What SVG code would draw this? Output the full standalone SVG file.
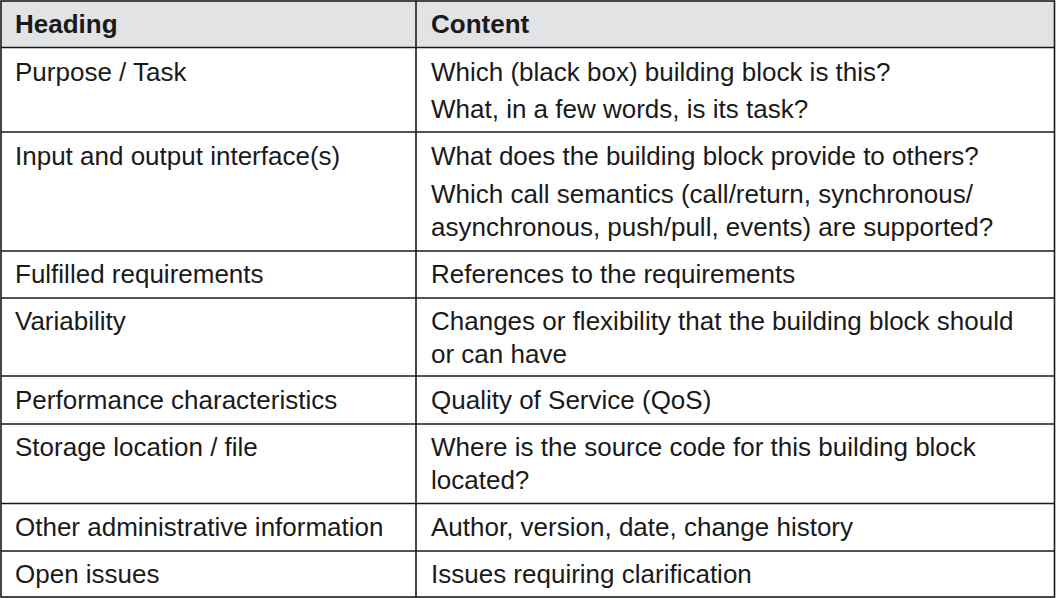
<svg xmlns="http://www.w3.org/2000/svg" width="1056" height="598" viewBox="0 0 1056 598">
<style>
text{font-family:"Liberation Sans",Arial,Helvetica,sans-serif;font-size:26px;fill:#1a1a1a}
.h{font-weight:bold}
.ln{stroke:#1a1a1a;stroke-width:1.6;fill:none}
</style>
<rect x="0" y="0" width="1056" height="598" fill="#ffffff"/>
<g id="header">
<rect x="1" y="1" width="1053.5" height="46.5" fill="#e2e3e5"/>
<text class="h" x="15" y="33">Heading</text>
<text class="h" x="431" y="33">Content</text>
</g>
<g id="connectors">
<rect class="ln" x="1" y="1" width="1053.5" height="596"/>
<line class="ln" x1="416" y1="1" x2="416" y2="597"/>
<line class="ln" x1="1" y1="47.5" x2="1054.5" y2="47.5"/>
<line class="ln" x1="1" y1="132" x2="1054.5" y2="132"/>
<line class="ln" x1="1" y1="251" x2="1054.5" y2="251"/>
<line class="ln" x1="1" y1="298" x2="1054.5" y2="298"/>
<line class="ln" x1="1" y1="376" x2="1054.5" y2="376"/>
<line class="ln" x1="1" y1="424" x2="1054.5" y2="424"/>
<line class="ln" x1="1" y1="503.5" x2="1054.5" y2="503.5"/>
<line class="ln" x1="1" y1="551" x2="1054.5" y2="551"/>
</g>
<g id="row1">
<text x="15" y="81">Purpose / Task</text>
<text x="431" y="81">Which (black box) building block is this?</text>
<text x="431" y="118">What, in a few words, is its task?</text>
</g>
<g id="row2">
<text x="15" y="165">Input and output interface(s)</text>
<text x="431" y="165">What does the building block provide to others?</text>
<text x="431" y="203">Which call semantics (call/return, synchronous/</text>
<text x="431" y="236">asynchronous, push/pull, events) are supported?</text>
</g>
<g id="row3">
<text x="15" y="283">Fulfilled requirements</text>
<text x="431" y="283">References to the requirements</text>
</g>
<g id="row4">
<text x="15" y="330">Variability</text>
<text x="431" y="330">Changes or flexibility that the building block should</text>
<text x="431" y="363">or can have</text>
</g>
<g id="row5">
<text x="15" y="409">Performance characteristics</text>
<text x="431" y="409">Quality of Service (QoS)</text>
</g>
<g id="row6">
<text x="15" y="456">Storage location / file</text>
<text x="431" y="456">Where is the source code for this building block</text>
<text x="431" y="489">located?</text>
</g>
<g id="row7">
<text x="15" y="536">Other administrative information</text>
<text x="431" y="536">Author, version, date, change history</text>
</g>
<g id="row8">
<text x="15" y="583">Open issues</text>
<text x="431" y="583">Issues requiring clarification</text>
</g>
</svg>
